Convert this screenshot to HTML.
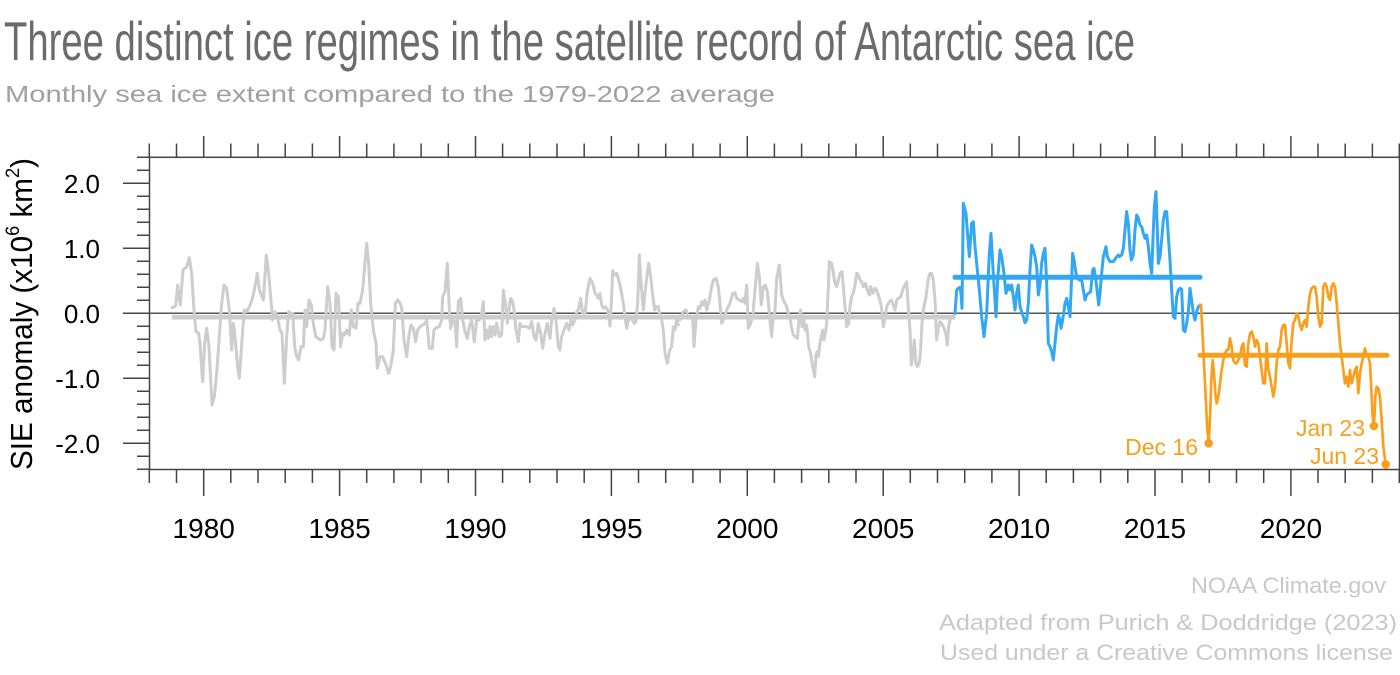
<!DOCTYPE html>
<html><head><meta charset="utf-8">
<style>
html,body{margin:0;padding:0;background:#fff;}
svg{display:block;}
text{font-family:"Liberation Sans",sans-serif;}
</style></head>
<body>
<svg width="1400" height="675" viewBox="0 0 1400 675" xmlns="http://www.w3.org/2000/svg">
<rect width="1400" height="675" fill="#fff"/>

<!-- Title / subtitle -->
<text x="4" y="60" font-size="55" fill="#6b6b6b" style="font-family:'Liberation Sans Narrow','Liberation Sans',sans-serif" textLength="1131" lengthAdjust="spacingAndGlyphs">Three distinct ice regimes in the satellite record of Antarctic sea ice</text>
<text x="5" y="102" font-size="23" fill="#a0a0a0" textLength="770" lengthAdjust="spacingAndGlyphs">Monthly sea ice extent compared to the 1979-2022 average</text>

<!-- Footer -->
<text x="1191" y="593" font-size="22" fill="#c8c8c8" textLength="195" lengthAdjust="spacingAndGlyphs">NOAA Climate.gov</text>
<text x="939" y="630" font-size="22" fill="#c8c8c8" textLength="458" lengthAdjust="spacingAndGlyphs">Adapted from Purich &amp; Doddridge (2023)</text>
<text x="940" y="660" font-size="22" fill="#c8c8c8" textLength="453" lengthAdjust="spacingAndGlyphs">Used under a Creative Commons  license</text>

<!-- zero line -->
<line x1="150" y1="313.3" x2="1399.5" y2="313.3" stroke="#555" stroke-width="1.5"/>

<!-- Grey series -->
<g fill="none" stroke="#cdcdcd" stroke-width="9" stroke-linejoin="round" stroke-linecap="round">
<polyline transform="translate(0,130) scale(0.33333)" points="516,533 527,528 533,465 541,525 549,420 555,415 560,410 568,383 575,430 582,540 588,605 596,610 600,640 608,755 614,640 620,595 627,650 636,825 643,800 650,730 658,620 665,520 672,465 680,475 688,540 695,660 700,580 705,620 713,710 718,745 726,630 733,540 740,545 748,530 756,510 763,480 772,430 778,480 790,510 799,375 806,430 812,500 818,570 825,545 832,560 840,600 846,610 853,760 860,620 866,545 872,550 878,550 884,650 890,680 896,690 903,650 910,650 915,540 920,590 927,510 934,525 940,580 947,620 954,625 962,630 970,625 975,600 983,470 990,520 996,650 1002,660 1008,490 1015,500 1022,650 1028,610 1034,615 1040,600 1048,615 1054,540 1060,590 1068,595 1074,520 1080,520 1088,480 1094,410 1100,340 1106,400 1112,520 1120,600 1128,640 1132,715 1140,680 1148,680 1160,710 1166,730 1172,710 1180,660 1186,520 1193,510 1200,520"/>
<polyline transform="translate(380,220) scale(0.33333)" points="58,245 65,262 72,360 80,410 87,345 93,315 100,325 107,365 113,330 120,320 128,315 135,310 140,300 148,385 157,385 162,330 170,322 178,320 185,300 188,230 195,215 202,130 208,270 212,325 218,300 225,305 230,380 235,245 242,235 248,300 255,335 262,355 268,320 275,300 283,365 290,300 298,300 305,280 310,245 315,360 320,330 325,355 330,320 335,350 340,320 345,345 350,310 358,350 365,345 370,210 376,250 382,310 388,260 392,235 398,245 403,275 408,330 415,365 420,310 425,320 430,320 440,320 448,325 455,305 462,350 468,360 475,310 482,340 488,385 495,340 502,310 510,355 515,300 522,265 528,300 535,380 540,390 545,350 552,330 560,310 567,330 573,300 578,315 585,300 590,275 595,270 602,235 608,280 615,280 622,215 630,175 638,190 645,220 650,225 655,235 660,220 665,255 670,265 676,260 683,270 690,318 695,230 698,152 705,165 710,160 715,175 722,205 730,250 735,290 740,325 745,300 752,295 758,300 763,310 768,305 773,250 778,105 784,200 790,270 798,190 806,130 812,170 818,225 824,270 828,260 835,260 840,290 845,300 850,330 855,400 862,430 868,395 875,380 880,320 885,330 890,300 895,315"/>
<polyline transform="translate(680,220) scale(0.33333)" points="0,300 10,275 18,270 25,290 30,290 38,290 42,380 48,300 55,260 60,265 65,245 70,255 75,240 80,270 88,240 95,200 100,180 108,175 115,200 120,250 125,310 130,300 140,270 150,250 158,220 165,218 170,235 178,240 185,245 190,235 195,250 200,195 205,325 210,315 218,290 225,210 232,130 238,170 244,255 250,200 256,195 262,215 268,280 275,350 280,290 285,270 290,175 298,135 305,225 312,245 318,255 325,280 330,295 335,325 340,345 345,350 352,355 358,290 362,270 366,320 372,300 375,330 380,315 386,380 392,400 398,440 404,470 408,405 412,395 415,410 420,370 428,330 432,360 436,340 440,310 445,200 448,125 455,130 460,160 465,190 470,200 475,180 480,160 486,155 490,200 495,260 500,320 506,310 510,260 515,230 520,220 526,190 530,160 535,165 540,180 545,185 550,200 556,190 562,210 568,225 572,200 578,220 585,205 590,210 598,235 604,260 610,320 615,295 620,260 628,245 634,240 640,255 645,270 650,240 656,235 662,230 668,210 672,200 680,185 685,265 690,330 694,435 700,400 703,360 708,430 712,440 718,430 722,385 726,310 730,270 738,230 745,175 750,160 755,160 760,180 765,240 770,360 775,325 780,305 785,310 792,325 797,340 802,375 806,320 810,300 815,290 822,285 825,282"/>
</g>
<line x1="172" y1="317.3" x2="955" y2="317.3" stroke="#cdcdcd" stroke-width="4.5"/>

<!-- Blue series -->
<g fill="none" stroke="#33a7f2" stroke-width="9" stroke-linejoin="round" stroke-linecap="round">
<polyline transform="translate(940,180) scale(0.33333)" points="45,400 50,330 55,325 60,322 63,340 66,385 70,70 78,100 88,230 95,130 100,125 105,200 110,250 118,330 125,410 132,470 140,400 148,220 153,160 158,250 163,330 168,410 173,300 180,210"/>
<polyline transform="translate(1000,130) scale(0.33333)" points="0,360 5,380 12,430 18,490 25,465 30,480 35,465 40,500 45,540 50,490 55,465 60,530 65,545 70,560 75,578 80,570 85,520 90,420 95,345 100,360 105,380 110,410 115,495 120,465 125,400 130,370 135,355 140,460 145,640 150,650 155,665 160,690 165,640 170,590 175,555 180,570 183,595 188,570 195,520 200,505 205,530 210,560 212,510 218,370 222,390 228,430 232,445 238,450 245,450 250,480 255,510 260,495 265,490 272,485 278,420 282,415 286,440 290,470 296,525 300,490 305,430 310,380 318,350 322,380 330,395 340,395 345,388 350,380 355,375 358,380 365,375 370,355 375,300 380,245 385,280 390,360 394,390 400,375 405,300 410,255 415,265 420,285 425,290 430,310 435,325 440,315 445,350 450,400 455,430 460,300 463,230 468,185 472,300 475,400 480,380 485,330 490,270 495,245 500,245 505,320 510,390 515,480 520,560 525,565 530,500 535,480 540,475 545,478 550,600 555,605 560,580 565,545 570,475 575,510 580,550 585,570 590,545 595,530 600,525"/>
</g>
<line x1="955" y1="277.3" x2="1200" y2="277.3" stroke="#33a7f2" stroke-width="5" stroke-linecap="round"/>

<!-- Orange series -->
<g fill="none" stroke="#f99f1c" stroke-width="8" stroke-linejoin="round" stroke-linecap="round">
<polyline transform="translate(1000,130) scale(0.33333)" points="600,525 603,525 607,600 612,700 617,800 622,900 626,940 630,870 634,750 638,690 642,730 646,790 650,820 655,800 660,760 665,720 670,690 675,670 680,660 685,660 690,625 695,650 700,690 705,700 710,700 715,690 720,680 725,650 730,640 735,705 740,710 745,640 750,610 755,605 760,620 765,650 770,630 775,640 780,680 785,720 790,760 795,760 800,640 805,720 810,740 815,770 820,800 825,770 830,700 835,660 840,650 845,600 850,585 855,585 860,640 865,700 870,715 875,630 880,580 885,570 890,550 895,560 900,585 905,600 910,580 915,570 920,590 925,530 930,490 935,475 940,470 945,470 950,500 955,560 960,590 965,580 970,470 975,460 980,470 985,500 990,510 995,470 1000,460 1005,470 1010,520 1015,580 1020,640 1025,680 1030,720 1035,760 1040,740 1045,770 1050,720 1055,760 1060,740 1065,720 1070,710 1075,790 1080,730 1085,700 1090,680 1095,655 1100,675 1105,680 1110,700 1115,800 1118,860 1122,888 1126,800 1130,770 1135,775 1140,800 1145,870 1150,950 1157,1003"/>
</g>
<line x1="1200" y1="355.3" x2="1387" y2="355.3" stroke="#f99f1c" stroke-width="5" stroke-linecap="round"/>

<!-- Annotation points -->
<g fill="#f99f1c">
<circle cx="1208.7" cy="443.3" r="4.3"/>
<circle cx="1374" cy="426" r="4.3"/>
<circle cx="1385.7" cy="464.3" r="4.3"/>
</g>
<g fill="#f99f1c" font-size="23" text-anchor="end">
<text x="1198" y="455">Dec 16</text>
<text x="1365" y="436">Jan 23</text>
<text x="1379" y="464">Jun 23</text>
</g>

<!-- Frame -->
<rect x="149.5" y="157.3" width="1250" height="312.2" fill="none" stroke="#444" stroke-width="1.5"/>

<!-- X ticks -->
<g stroke="#444" stroke-width="1.5" fill="none">
<path d="M149.3 157.3V143.5M176.5 157.3V143.5M203.7 157.3V136M230.8 157.3V143.5M258 157.3V143.5M285.2 157.3V143.5M312.4 157.3V143.5M339.6 157.3V136M366.7 157.3V143.5M393.9 157.3V143.5M421.1 157.3V143.5M448.3 157.3V143.5M475.5 157.3V136M502.6 157.3V143.5M529.8 157.3V143.5M557 157.3V143.5M584.2 157.3V143.5M611.4 157.3V136M638.5 157.3V143.5M665.7 157.3V143.5M692.9 157.3V143.5M720.1 157.3V143.5M747.3 157.3V136M774.4 157.3V143.5M801.6 157.3V143.5M828.8 157.3V143.5M856 157.3V143.5M883.2 157.3V136M910.3 157.3V143.5M937.5 157.3V143.5M964.7 157.3V143.5M991.9 157.3V143.5M1019.1 157.3V136M1046.2 157.3V143.5M1073.4 157.3V143.5M1100.6 157.3V143.5M1127.8 157.3V143.5M1155 157.3V136M1182.1 157.3V143.5M1209.3 157.3V143.5M1236.5 157.3V143.5M1263.7 157.3V143.5M1290.9 157.3V136M1318 157.3V143.5M1345.2 157.3V143.5M1372.4 157.3V143.5M1399.3 157.3V143.5"/>
<path d="M149.3 469.5V483M176.5 469.5V483M203.7 469.5V496M230.8 469.5V483M258 469.5V483M285.2 469.5V483M312.4 469.5V483M339.6 469.5V496M366.7 469.5V483M393.9 469.5V483M421.1 469.5V483M448.3 469.5V483M475.5 469.5V496M502.6 469.5V483M529.8 469.5V483M557 469.5V483M584.2 469.5V483M611.4 469.5V496M638.5 469.5V483M665.7 469.5V483M692.9 469.5V483M720.1 469.5V483M747.3 469.5V496M774.4 469.5V483M801.6 469.5V483M828.8 469.5V483M856 469.5V483M883.2 469.5V496M910.3 469.5V483M937.5 469.5V483M964.7 469.5V483M991.9 469.5V483M1019.1 469.5V496M1046.2 469.5V483M1073.4 469.5V483M1100.6 469.5V483M1127.8 469.5V483M1155 469.5V496M1182.1 469.5V483M1209.3 469.5V483M1236.5 469.5V483M1263.7 469.5V483M1290.9 469.5V496M1318 469.5V483M1345.2 469.5V483M1372.4 469.5V483M1399.3 469.5V483"/>
<!-- Y ticks -->
<path d="M149.5 157.3H137M149.5 170.3H137M149.5 183.3H123M149.5 196.3H137M149.5 209.3H137M149.5 222.3H137M149.5 235.3H137M149.5 248.3H123M149.5 261.3H137M149.5 274.3H137M149.5 287.3H137M149.5 300.3H137M149.5 313.3H123M149.5 326.3H137M149.5 339.3H137M149.5 352.3H137M149.5 365.3H137M149.5 378.3H123M149.5 391.3H137M149.5 404.3H137M149.5 417.3H137M149.5 430.3H137M149.5 443.3H123M149.5 456.3H137M149.5 469.3H137"/>
</g>

<!-- X labels -->
<g font-size="28" fill="#000" text-anchor="middle">
<text x="203.7" y="538">1980</text>
<text x="339.6" y="538">1985</text>
<text x="475.5" y="538">1990</text>
<text x="611.4" y="538">1995</text>
<text x="747.3" y="538">2000</text>
<text x="883.2" y="538">2005</text>
<text x="1019.1" y="538">2010</text>
<text x="1155" y="538">2015</text>
<text x="1290.9" y="538">2020</text>
</g>

<!-- Y labels -->
<g font-size="26" fill="#000" text-anchor="end">
<text x="100" y="193">2.0</text>
<text x="100" y="258">1.0</text>
<text x="100" y="323">0.0</text>
<text x="100" y="388">-1.0</text>
<text x="100" y="453">-2.0</text>
</g>

<!-- Y axis title -->
<text transform="translate(32,314) rotate(-90)" font-size="31" fill="#000" text-anchor="middle" textLength="312" lengthAdjust="spacingAndGlyphs">SIE anomaly (x10<tspan font-size="19" dy="-13">6</tspan><tspan dy="13"> km</tspan><tspan font-size="19" dy="-13">2</tspan><tspan dy="13">)</tspan></text>
</svg>
</body></html>
